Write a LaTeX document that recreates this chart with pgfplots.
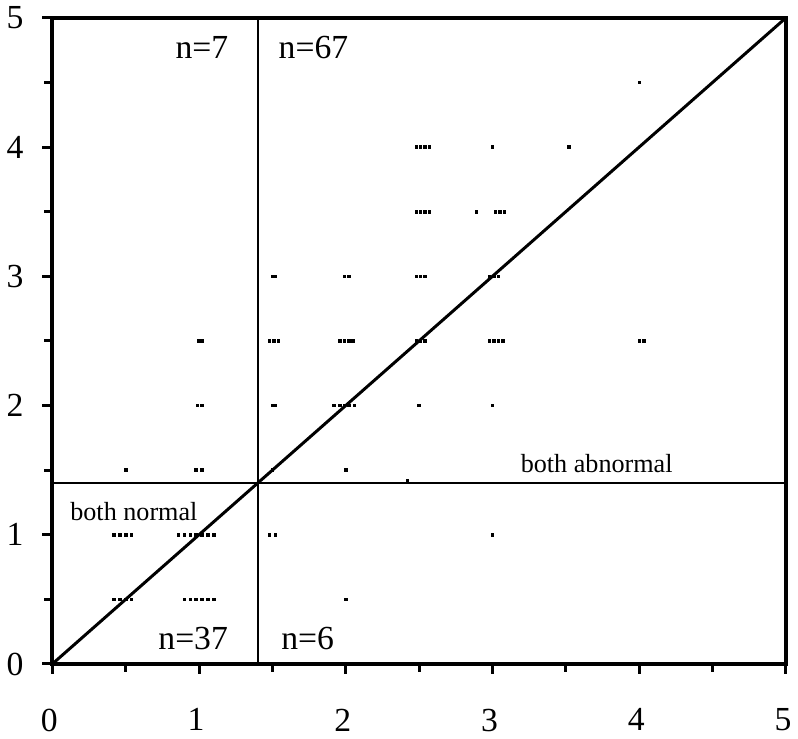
\documentclass[border=0pt]{standalone}
\usepackage{pgfplots}
\pgfplotsset{compat=1.18}
\usepackage{fontspec}
\setmainfont{Liberation Serif}
\begin{document}
\begin{tikzpicture}
\begin{axis}[
  scale only axis, width=369bp, height=325bp,
  xmin=0, xmax=5, ymin=0, ymax=5,
  axis line style={line width=2.2bp},
  xtick={0,1,2,3,4,5}, ytick={0,1,2,3,4,5},
  minor xtick={0.5,1.5,2.5,3.5,4.5}, minor ytick={0.5,1.5,2.5,3.5,4.5},
  tick pos=left, tick align=outside,
  major tick length=5bp, minor tick length=4bp,
  every tick/.style={black, line width=1.5bp},
  /pgf/number format/assume math mode=true,
  ticklabel style={font=\fontsize{17}{19}\selectfont},
  xticklabel style={yshift=-14bp, xshift=-1.5bp},
  yticklabel style={xshift=-6bp},
  clip=false,
]
% diagonal and thresholds
\addplot[black, line width=1.5bp] coordinates {(0,0) (5,5)};
\addplot[black, line width=1.1bp] coordinates {(1.4,0) (1.4,5)};
\addplot[black, line width=1.1bp] coordinates {(0,1.4) (5,1.4)};
% observations
\addplot[only marks, mark=square*, mark size=0.65pt, black] coordinates {
(4.0,4.5)
(2.48,4) (2.51,4) (2.54,4) (2.57,4) (3.0,4) (3.52,4)
(2.48,3.5) (2.51,3.5) (2.54,3.5) (2.57,3.5) (2.89,3.5) (3.02,3.5) (3.05,3.5) (3.08,3.5)
(1.5,3) (1.52,3) (1.99,3) (2.02,3) (2.48,3) (2.51,3) (2.54,3) (2.98,3) (3.01,3) (3.04,3)
(1.0,2.5) (1.02,2.5) (1.48,2.5) (1.51,2.5) (1.54,2.5) (1.96,2.5) (1.99,2.5) (2.02,2.5) (2.05,2.5)
(2.48,2.5) (2.51,2.5) (2.54,2.5) (2.98,2.5) (3.01,2.5) (3.04,2.5) (3.07,2.5) (4.0,2.5) (4.03,2.5)
(0.99,2) (1.02,2) (1.5,2) (1.52,2) (1.92,2) (1.96,2) (1.99,2) (2.02,2) (2.06,2) (2.5,2) (3.0,2)
(0.5,1.5) (0.98,1.5) (1.02,1.5) (1.5,1.5) (2.0,1.5) (2.42,1.42)
(0.42,1) (0.46,1) (0.5,1) (0.54,1) (0.86,1) (0.9,1) (0.94,1) (0.98,1) (1.02,1) (1.06,1) (1.1,1)
(1.48,1) (1.52,1) (3.0,1)
(0.42,0.5) (0.46,0.5) (0.5,0.5) (0.54,0.5) (0.9,0.5) (0.94,0.5) (0.98,0.5) (1.02,0.5) (1.06,0.5) (1.1,0.5)
(2.0,0.5)
};
\node[font=\fontsize{17}{19}\selectfont] at (axis cs:1.02,4.77) {n=7};
\node[font=\fontsize{17}{19}\selectfont] at (axis cs:1.78,4.77) {n=67};
\node[font=\fontsize{17}{19}\selectfont] at (axis cs:0.96,0.2) {n=37};
\node[font=\fontsize{17}{19}\selectfont] at (axis cs:1.74,0.2) {n=6};
\node[font=\fontsize{13.2}{15}\selectfont] at (axis cs:0.556,1.18) {both normal};
\node[font=\fontsize{13.2}{15}\selectfont] at (axis cs:3.71,1.55) {both abnormal};
\end{axis}
\end{tikzpicture}
\end{document}
